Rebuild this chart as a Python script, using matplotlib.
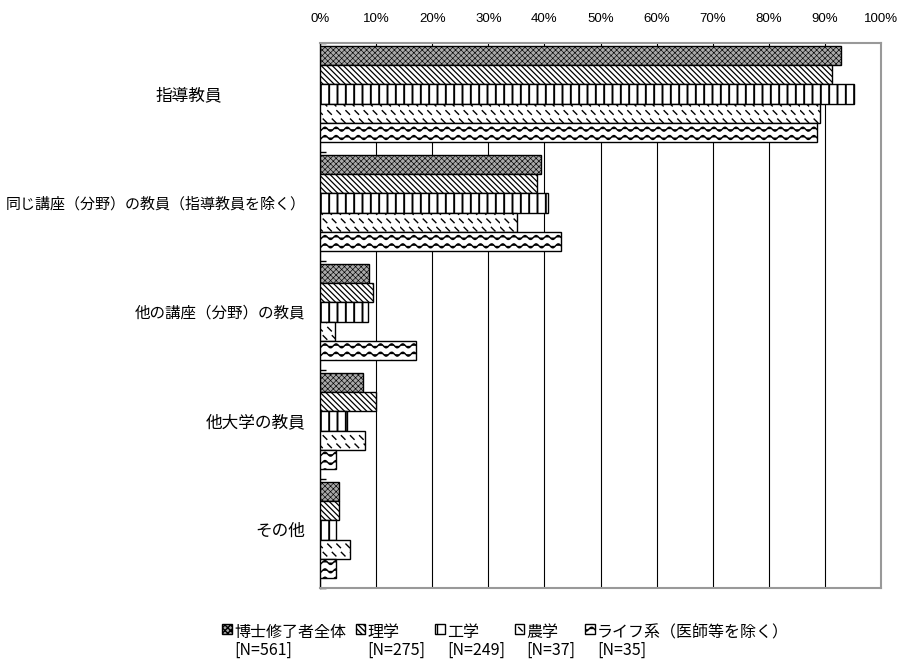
import numpy as np
import matplotlib
matplotlib.use("Agg")
import matplotlib.pyplot as plt
import matplotlib.hatch as mhatch
import matplotlib.transforms as mtrans
from matplotlib.path import Path

# ---------------- data ----------------
categories = ["指導教員", "同じ講座（分野）の教員（指導教員を除く）", "他の講座（分野）の教員",
              "他大学の教員", "その他"]
series_names = ["博士修了者全体", "理学", "工学", "農学", "ライフ系（医師等を除く）"]
series_n = ["[N=561]", "[N=275]", "[N=249]", "[N=37]", "[N=35]"]
all_phd = [92.9, 39.4, 8.7, 7.6, 3.3]
science = [91.3, 38.6, 9.5, 9.9, 3.4]
engineering = [95.2, 40.6, 8.6, 4.8, 2.8]
agriculture = [89.2, 35.1, 2.7, 8.1, 5.4]
life = [88.6, 42.9, 17.1, 2.9, 2.9]
xtick_labels = ["0%", "10%", "20%", "30%", "40%", "50%", "60%", "70%", "80%", "90%", "100%"]
series_values = [all_phd, science, engineering, agriculture, life]


# ---------------- custom hatches ----------------
class WaveHatch(mhatch.HatchPatternBase):
    def __init__(self, hatch, density):
        self.rows = 12 if hatch.count('O') else 0
        self.seg = 90
        self.num_vertices = self.rows * (self.seg + 1)

    def set_vertices_and_codes(self, vertices, codes):
        x = np.linspace(0, 1, self.seg + 1)
        for r in range(self.rows):
            y0 = (r + 0.5) / self.rows
            y = y0 + 0.02 * np.sin(2 * np.pi * 9 * x)
            sl = slice(r * (self.seg + 1), (r + 1) * (self.seg + 1))
            vertices[sl, 0] = x
            vertices[sl, 1] = y
            codes[sl] = Path.LINETO
            codes[r * (self.seg + 1)] = Path.MOVETO


class DashHatch(mhatch.HatchPatternBase):
    def __init__(self, hatch, density):
        on = hatch.count('o') > 0
        self.cols, self.rows = 11, 12
        self.num_vertices = self.cols * self.rows * 2 if on else 0

    def set_vertices_and_codes(self, v, c):
        i = 0
        d = 0.018
        for r in range(self.rows):
            for k in range(self.cols):
                x = (k + 0.5 * (r % 2) + 0.25) / self.cols
                y = (r + 0.5) / self.rows
                v[i] = (x - d, y + d)
                v[i + 1] = (x + d, y - d)
                c[i] = Path.MOVETO
                c[i + 1] = Path.LINETO
                i += 2


mhatch._hatch_types = [t for t in mhatch._hatch_types
                       if t not in (mhatch.SmallCircles, mhatch.LargeCircles)] + [WaveHatch, DashHatch]

# ---------------- fonts ----------------
jp = "Noto Sans CJK JP"
num_family = "Liberation Sans"
plt.rcParams['font.family'] = [jp, 'DejaVu Sans']

# ---------------- figure ----------------
W, H = 901, 669
fig = plt.figure(figsize=(W / 100, H / 100), dpi=100)
L, R, T, B = 320, 881, 43, 588
ax = fig.add_axes([L / W, 1 - B / H, (R - L) / W, (B - T) / H])

styles = [
    dict(facecolor="#a8a8a8", hatch="xxxxxx", hlw=0.45),
    dict(facecolor="white", hatch="\\\\\\\\\\\\", hlw=0.9),
    dict(facecolor="white", hatch="||", hlw=1.4),
    dict(facecolor="white", hatch="o", hlw=1.0),
    dict(facecolor="white", hatch="O", hlw=1.0),
]

n_groups = len(categories)
offset = 0.028
bar_h = 0.176
group_idx = np.arange(n_groups)

containers = []
for k, (vals, st) in enumerate(zip(series_values, styles)):
    with plt.rc_context({'hatch.linewidth': st['hlw']}):
        ypos = group_idx + offset + (k + 0.5) * bar_h
        bc = ax.barh(ypos, vals, height=bar_h, facecolor=st['facecolor'],
                     edgecolor="black", linewidth=1.0, hatch=st['hatch'], zorder=3,
                     label=series_names[k] + "\n" + series_n[k])
        for p in bc:
            try:
                p.set_hatch_linewidth(st['hlw'])
            except AttributeError:
                pass
    containers.append(bc)

ax.set_xlim(0, 100)
ax.set_ylim(n_groups, 0)

# x axis on top
ax.xaxis.tick_top()
ax.set_xticks(np.arange(0, 101, 10))
ax.set_xticklabels(xtick_labels, fontfamily=num_family, fontsize=9.5)
ax.tick_params(axis='x', length=0, pad=13)
ax.grid(axis='x', color='black', linewidth=0.8, zorder=0)
ax.set_axisbelow(True)

# y axis: boundary ticks only
ax.set_yticks([])
ax.set_yticks(np.arange(0, n_groups + 1), minor=True)
ax.tick_params(axis='y', which='minor', direction='in', length=4, width=1, color='black')
ax.tick_params(axis='y', which='major', length=0)

for s in ['top', 'right', 'bottom']:
    ax.spines[s].set_color('#999999')
    ax.spines[s].set_linewidth(1.5)
ax.spines['left'].set_color('black')
ax.spines['left'].set_linewidth(1.0)

# category labels
trans = mtrans.blended_transform_factory(ax.transAxes, ax.transData)
label_sizes = [12, 10.8, 11.2, 12, 12]
for i, cat in enumerate(categories):
    y = i + 0.48
    if i == 0:
        ax.text((188.5 - L) / (R - L), y, cat, transform=trans, ha='center', va='center',
                fontsize=label_sizes[i])
    else:
        ax.text((305.5 - L) / (R - L), y, cat, transform=trans, ha='right', va='center',
                fontsize=label_sizes[i])

# legend
leg = fig.legend(handles=containers, loc='upper left', bbox_to_anchor=(222 / W, 1 - 624 / H),
                 ncol=5, frameon=False, borderpad=0, borderaxespad=0, handlelength=0.6,
                 handleheight=0.6, handletextpad=0.15, columnspacing=0.6,
                 prop={'family': [jp, 'DejaVu Sans'], 'size': 11.5})
for t in leg.get_texts():
    t.set_linespacing(1.05)
try:
    for col in leg._legend_handle_box.get_children():
        for hp in col.get_children():
            hp.align = 'top'
except Exception:
    pass

fig.savefig("out.png", dpi=100)
